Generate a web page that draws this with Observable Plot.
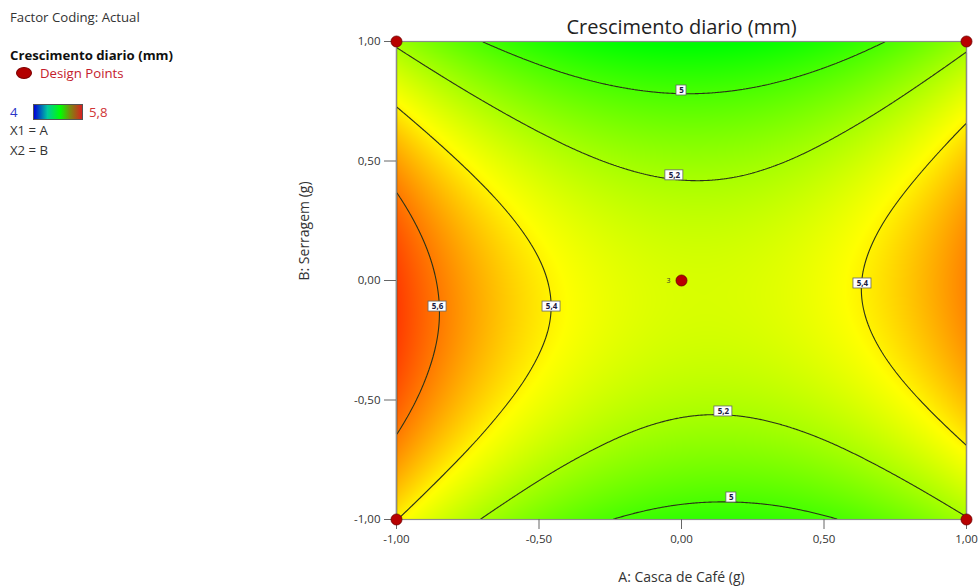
<!DOCTYPE html>
<html><head><meta charset="utf-8">
<script src="https://cdn.jsdelivr.net/npm/d3@7"></script>
<script src="https://cdn.jsdelivr.net/npm/@observablehq/plot@0.6"></script>
<style>
body{margin:0;background:#fff;font-family:"Open Sans",sans-serif;}
#wrap{position:relative;width:978px;height:587px;overflow:hidden;}
#legend{position:absolute;left:0;top:0;width:300px;height:200px;color:#333;font-size:13.2px;}
#legend div{position:absolute;white-space:nowrap;line-height:16px;}
</style></head><body>
<div id="wrap"><div id="chart"></div>
<div id="legend">
  <div style="left:10px;top:9px;">Factor Coding: Actual</div>
  <div style="left:10px;top:47px;font-weight:bold;color:#111;">Crescimento diario (mm)</div>
  <div style="left:16px;top:67px;width:16px;height:12px;border-radius:50%;background:#b30000;border:1px solid #7a0000;box-sizing:border-box;"></div>
  <div style="left:40px;top:65px;color:#c4202c;">Design Points</div>
  <div style="left:10px;top:104px;color:#2a35c8;">4</div>
  <div style="left:33px;top:104px;width:50px;height:16px;box-sizing:border-box;border:1px solid #555;background:linear-gradient(to right,#0000d8,#00c8a0 28%,#00ff00 55%,#7a8a10 75%,#d82020);"></div>
  <div style="left:89px;top:104px;color:#d03535;">5,8</div>
  <div style="left:10px;top:122px;">X1 = A</div>
  <div style="left:10px;top:142px;">X2 = B</div>
</div></div>
<script>
// factor levels (coded)
const xs = [-1, -0.8, -0.6, -0.4, -0.2, 0, 0.2, 0.4, 0.6, 0.8, 1];
const ys = [1, 0.8, 0.6, 0.4, 0.2, 0, -0.2, -0.4, -0.6, -0.8, -1];
// Crescimento diario (mm), one row per B level (top to bottom)
const values = [
  [5.177, 5.052, 4.955, 4.885, 4.843, 4.828, 4.840, 4.880, 4.948, 5.043, 5.165],
  [5.346, 5.219, 5.120, 5.048, 5.004, 4.987, 4.998, 5.036, 5.101, 5.194, 5.314],
  [5.483, 5.354, 5.253, 5.179, 5.133, 5.114, 5.122, 5.158, 5.222, 5.312, 5.431],
  [5.587, 5.456, 5.353, 5.277, 5.229, 5.208, 5.214, 5.248, 5.310, 5.398, 5.515],
  [5.658, 5.525, 5.420, 5.342, 5.292, 5.269, 5.274, 5.306, 5.365, 5.452, 5.566],
  [5.697, 5.562, 5.455, 5.375, 5.323, 5.298, 5.301, 5.330, 5.388, 5.473, 5.585],
  [5.703, 5.567, 5.457, 5.376, 5.321, 5.294, 5.295, 5.323, 5.378, 5.461, 5.571],
  [5.677, 5.538, 5.427, 5.343, 5.287, 5.258, 5.257, 5.283, 5.336, 5.417, 5.525],
  [5.618, 5.478, 5.364, 5.279, 5.220, 5.189, 5.186, 5.210, 5.261, 5.340, 5.446],
  [5.527, 5.384, 5.269, 5.181, 5.121, 5.088, 5.083, 5.104, 5.154, 5.231, 5.335],
  [5.403, 5.258, 5.141, 5.051, 4.989, 4.954, 4.947, 4.967, 5.014, 5.089, 5.191]
];
const levels = [5, 5.2, 5.4, 5.6];
const tickValues = [-1, -0.5, 0, 0.5, 1];
const colorStops = [4, 4.85, 5.38, 5.8];
const colorRange = ["#0000ff", "#00ff00", "#ffff00", "#ff0000"];
// design points: 4 factorial corners + center (3 replicates)
const designX = [-1, 1, -1, 1, 0];
const designY = [-1, -1, 1, 1, 0];
const designN = ["", "", "", "", "3"];
// contour label anchors
const labelX = [0.0, -0.025, -0.456, -0.856, 0.635, 0.147, 0.175];
const labelY = [0.795, 0.44, -0.109, -0.109, -0.0125, -0.548, -0.908];
const labelT = ["5", "5,2", "5,4", "5,6", "5,4", "5,2", "5"];

const grid = ys.flatMap((y, i) => xs.map((x, j) => ({x, y, v: values[i][j]})));
const design = designX.map((x, i) => ({x, y: designY[i], n: designN[i]}));
const labels = labelX.map((x, i) => ({x, y: labelY[i], t: labelT[i]}));
const fmt = d => d.toFixed(2).replace(".", ",");

// smooth (Catmull-Rom) interpolator for a regular grid of samples, used by Plot's raster/contour
function bicubic(index, w, h, X, Y, V) {
  const key = v => Math.round(v * 1000) / 1000;
  const ux = Array.from(new Set(Array.from(index, i => key(X[i])))).sort((a, b) => a - b);
  const uy = Array.from(new Set(Array.from(index, i => key(Y[i])))).sort((a, b) => a - b);
  const nx = ux.length, ny = uy.length;
  const G = Array.from({length: ny}, () => new Array(nx).fill(0));
  for (const i of index) G[uy.indexOf(key(Y[i]))][ux.indexOf(key(X[i]))] = V[i];
  const padRow = r => [3 * r[0] - 3 * r[1] + r[2], ...r, 3 * r[r.length - 1] - 3 * r[r.length - 2] + r[r.length - 3]];
  const R = G.map(padRow);
  const first = R[0].map((_, c) => 3 * R[0][c] - 3 * R[1][c] + R[2][c]);
  const last = R[0].map((_, c) => 3 * R[ny - 1][c] - 3 * R[ny - 2][c] + R[ny - 3][c]);
  const P = [first, ...R, last];
  const wts = t => {
    const t2 = t * t, t3 = t2 * t;
    return [(-t3 + 2 * t2 - t) / 2, (3 * t3 - 5 * t2 + 2) / 2, (-3 * t3 + 4 * t2 + t) / 2, (t3 - t2) / 2];
  };
  const out = new Float64Array(w * h);
  const cols = [];
  for (let px = 0; px < w; ++px) {
    let g = (px + 0.5 - ux[0]) / (ux[nx - 1] - ux[0]) * (nx - 1);
    g = Math.max(0, Math.min(nx - 1, g));
    const i = Math.min(Math.floor(g), nx - 2);
    cols.push([i, wts(g - i)]);
  }
  for (let py = 0; py < h; ++py) {
    let g = (py + 0.5 - uy[0]) / (uy[ny - 1] - uy[0]) * (ny - 1);
    g = Math.max(0, Math.min(ny - 1, g));
    const j = Math.min(Math.floor(g), ny - 2);
    const wy = wts(g - j);
    for (let px = 0; px < w; ++px) {
      const [i, wx] = cols[px];
      let s = 0;
      for (let a = 0; a < 4; ++a) {
        const row = P[j + a];
        s += wy[a] * (wx[0] * row[i] + wx[1] * row[i + 1] + wx[2] * row[i + 2] + wx[3] * row[i + 3]);
      }
      out[py * w + px] = s;
    }
  }
  return out;
}

const chart = Plot.plot({
  width: 978, height: 587,
  marginLeft: 396, marginRight: 12, marginTop: 41, marginBottom: 68,
  style: {fontFamily: "Open Sans", fontSize: "11px", color: "#333", background: "transparent"},
  x: {domain: [-1, 1]},
  y: {domain: [-1, 1]},
  color: {type: "linear", domain: colorStops, range: colorRange, interpolate: "rgb"},
  marks: [
    Plot.raster(grid, {x: "x", y: "y", fill: "v", interpolate: bicubic, x1: -1, x2: 1, y1: -1, y2: 1, pixelSize: 1}),
    Plot.contour(grid, {x: "x", y: "y", value: "v", interpolate: bicubic, x1: -1, x2: 1, y1: -1, y2: 1, pixelSize: 1,
      thresholds: levels, fill: "none", stroke: "#2b3318", strokeWidth: 1.1}),
    Plot.frame({stroke: "#8c8c8c", strokeWidth: 1.2}),
    Plot.axisX(tickValues, {tickFormat: fmt, tickSize: 10, tickPadding: 5, stroke: "#666", fill: "#333", fontSize: 11.5, label: null}),
    Plot.axisY(tickValues, {tickFormat: fmt, tickSize: 12, tickPadding: 4, stroke: "#666", fill: "#333", fontSize: 11.5, label: null}),
    Plot.text(["A: Casca de Café (g)"], {frameAnchor: "bottom", lineAnchor: "middle", dy: 58, fontSize: 14, fill: "#333"}),
    Plot.text(["B: Serragem (g)"], {frameAnchor: "left", lineAnchor: "middle", rotate: -90, dx: -92, fontSize: 14, fill: "#333"}),
    Plot.rect(labels.filter(d => d.t.length > 1), {x1: "x", x2: "x", y1: "y", y2: "y",
      insetLeft: -9, insetRight: -9, insetTop: -5, insetBottom: -5, fill: "white", stroke: "#666", strokeWidth: 0.8}),
    Plot.rect(labels.filter(d => d.t.length === 1), {x1: "x", x2: "x", y1: "y", y2: "y",
      insetLeft: -5, insetRight: -5, insetTop: -5, insetBottom: -5, fill: "white", stroke: "#666", strokeWidth: 0.8}),
    Plot.text(labels, {x: "x", y: "y", text: "t", fontSize: 8, fill: "#1a1a40", fontWeight: "bold"}),
    Plot.dot(design, {x: "x", y: "y", r: 5.5, fill: "#b80000", stroke: "#6a0000", strokeWidth: 0.8, clip: false}),
    Plot.text(design, {x: "x", y: "y", text: "n", dx: -13, fontSize: 7, fill: "#333"}),
    Plot.text(["Crescimento diario (mm)"], {frameAnchor: "top", lineAnchor: "middle", dy: -14, fontSize: 20, fill: "#222"})
  ]
});
document.getElementById("chart").appendChild(chart);
</script>
</body></html>
